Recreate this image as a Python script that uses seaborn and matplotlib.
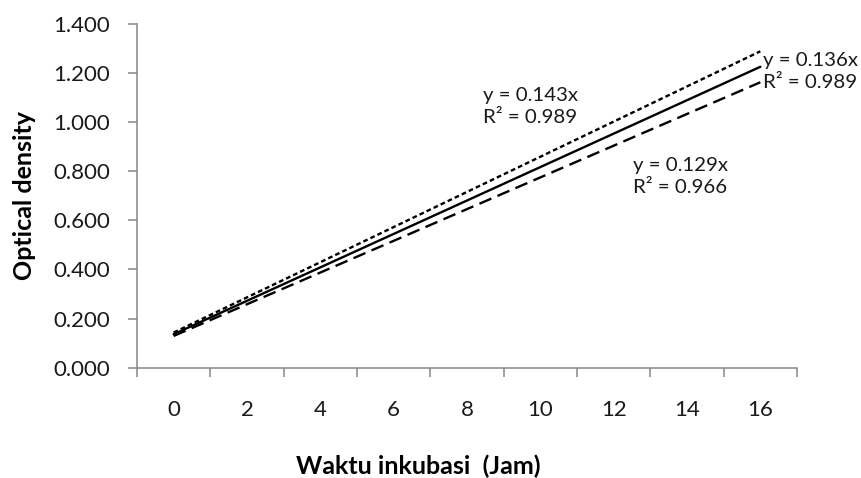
"""Optical density vs incubation time with linear trendlines."""

import matplotlib.pyplot as plt
import pandas as pd
import seaborn as sns

# incubation hours (category axis) and fitted optical densities
hours = [0, 2, 4, 6, 8, 10, 12, 14, 16]
od_dotted = [0.143, 0.286, 0.429, 0.572, 0.715, 0.858, 1.001, 1.144, 1.287]
od_solid = [0.136, 0.272, 0.408, 0.544, 0.680, 0.816, 0.952, 1.088, 1.224]
od_dashed = [0.129, 0.258, 0.387, 0.516, 0.645, 0.774, 0.903, 1.032, 1.161]
y_ticks = [0.0, 0.2, 0.4, 0.6, 0.8, 1.0, 1.2, 1.4]
eq_dotted = 'y = 0.143x\nR² = 0.989'
eq_solid = 'y = 0.136x\nR² = 0.989'
eq_dashed = 'y = 0.129x\nR² = 0.966'

AXIS_GREY = '#868686'
TEXT = '#1a1a1a'

sns.set_style('white')
plt.rcParams['font.family'] = ['Lato', 'DejaVu Sans']

df = pd.concat([
    pd.DataFrame({'hour': hours, 'od': od_dotted, 'series': 'dotted'}),
    pd.DataFrame({'hour': hours, 'od': od_solid, 'series': 'solid'}),
    pd.DataFrame({'hour': hours, 'od': od_dashed, 'series': 'dashed'}),
])

fig = plt.figure(figsize=(8.62, 4.78), dpi=100)
ax = fig.add_axes([0.1589, 0.2308, 0.7657, 0.7200])

sns.lineplot(
    data=df, x='hour', y='od', hue='series', style='series',
    palette={'dotted': 'black', 'solid': 'black', 'dashed': 'black'},
    dashes={'dotted': (2, 1.3), 'solid': '', 'dashed': (5.5, 2.8)},
    linewidth=1.7, legend=False, ax=ax)

ax.set_xlim(-1, 17)
ax.set_ylim(0, 1.4)
ax.set_yticks(y_ticks)
ax.set_yticklabels([f'{v:.3f}' for v in y_ticks])

# category boundaries carry the tick marks, centres carry the labels
ax.set_xticks([h - 1 for h in hours] + [hours[-1] + 1])
ax.set_xticklabels([])
ax.set_xticks(hours, minor=True)
ax.set_xticklabels([str(h) for h in hours], minor=True)

ax.tick_params(axis='x', which='major', length=6.5, width=1.1,
               color=AXIS_GREY, direction='out', bottom=True)
ax.tick_params(axis='x', which='minor', length=0, pad=23,
               labelsize=16, labelcolor=TEXT, bottom=True)
ax.tick_params(axis='y', length=6.5, width=1.1, color=AXIS_GREY,
               direction='out', pad=13, labelsize=16, labelcolor=TEXT, left=True)

sns.despine(ax=ax)
for side in ['left', 'bottom']:
    ax.spines[side].set_color(AXIS_GREY)
    ax.spines[side].set_linewidth(1.1)

ax.set_xlabel('')
ax.set_ylabel('')
fig.text(0.485, 0.025, 'Waktu inkubasi  (Jam)', ha='center', va='center',
         fontsize=18, fontweight='bold', color='black')
fig.text(0.029, 0.591, 'Optical density', ha='center', va='center',
         rotation=90, fontsize=18, fontweight='bold', color='black')

ax.text(8.44, 1.064, eq_dotted, ha='left', va='center', fontsize=14.7,
        color=TEXT, linespacing=1.35)
ax.text(16.07, 1.205, eq_solid, ha='left', va='center', fontsize=14.7,
        color=TEXT, linespacing=1.35, clip_on=False)
ax.text(12.53, 0.776, eq_dashed, ha='left', va='center', fontsize=14.7,
        color=TEXT, linespacing=1.35)

fig.savefig('out.png', dpi=100)
